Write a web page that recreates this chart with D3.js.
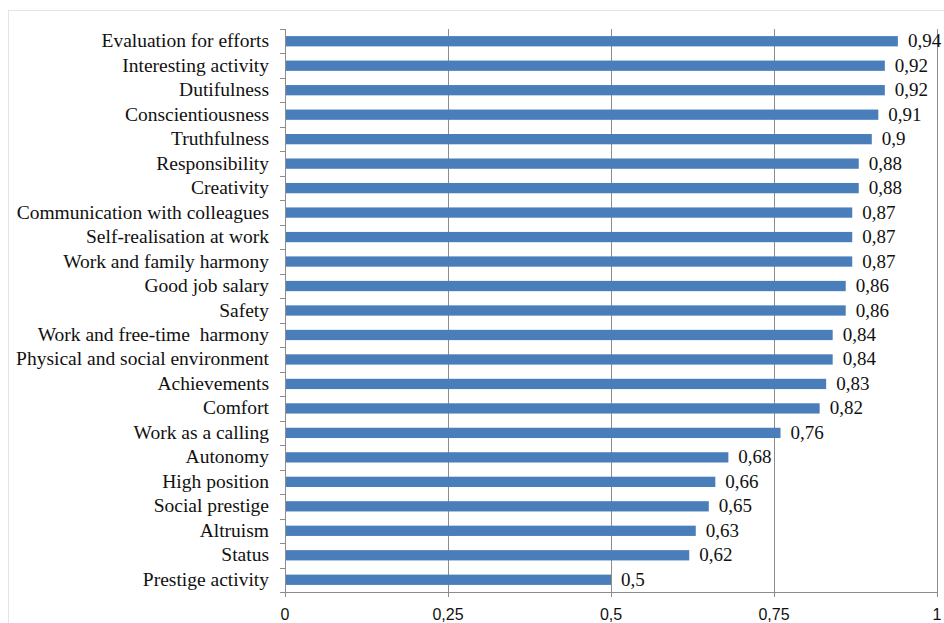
<!DOCTYPE html>
<html lang="en">
<head>
<meta charset="utf-8">
<title>Work values</title>
<script src="https://d3js.org/d3.v7.min.js"></script>
<style>
  body { margin: 0; background: #fff; }
  .cat { font-family: "Liberation Serif", "Times New Roman", serif; font-size: 19.5px; fill: #111; white-space: pre; }
  .val { font-family: "Liberation Serif", "Times New Roman", serif; font-size: 19px; fill: #111; }
  .tick-x { font-family: "Liberation Sans", Arial, sans-serif; font-size: 16px; fill: #111; }
</style>
</head>
<body>
<div id="chart"></div>
<script>
// categories top to bottom
var categories = ["Evaluation for efforts", "Interesting activity", "Dutifulness",
  "Conscientiousness", "Truthfulness", "Responsibility", "Creativity",
  "Communication with colleagues", "Self-realisation at work", "Work and family harmony",
  "Good job salary", "Safety", "Work and free-time  harmony",
  "Physical and social environment", "Achievements", "Comfort", "Work as a calling",
  "Autonomy", "High position", "Social prestige", "Altruism", "Status", "Prestige activity"];
var values = [0.94, 0.92, 0.92, 0.91, 0.9, 0.88, 0.88, 0.87, 0.87, 0.87, 0.86, 0.86,
  0.84, 0.84, 0.83, 0.82, 0.76, 0.68, 0.66, 0.65, 0.63, 0.62, 0.5];
var xTicks = [0, 0.25, 0.5, 0.75, 1];

var W = 944, H = 623;
var m = {top: 29, right: 7, bottom: 31, left: 285};

var fmt = function(v) { return String(v).replace(".", ","); };

var svg = d3.select("#chart").append("svg")
  .attr("width", W).attr("height", H);

// faint outer frame
svg.append("rect")
  .attr("x", 8.5).attr("y", 10.5)
  .attr("width", W - 8).attr("height", H)
  .style("fill", "none").style("stroke", "#e4e4e4");

var x = d3.scaleLinear().domain([0, 1]).range([m.left, W - m.right]);
var y = d3.scaleBand().domain(categories)
  .range([m.top, H - m.bottom])
  .paddingInner(0.58).paddingOuter(0.29);

var yBottom = H - m.bottom;
var step = y.step();

// grid lines
svg.append("g").selectAll("line")
  .data(xTicks.slice(1))
  .join("line")
  .attr("x1", d => Math.round(x(d)) + 0.5).attr("x2", d => Math.round(x(d)) + 0.5)
  .attr("y1", m.top).attr("y2", yBottom + 5)
  .style("stroke", "#8c8c8c").style("stroke-width", 1);

// bars
svg.append("g").selectAll("rect")
  .data(values)
  .join("rect")
  .attr("x", x(0))
  .attr("y", (d, i) => y(categories[i]))
  .attr("width", d => x(d) - x(0))
  .attr("height", y.bandwidth())
  .style("fill", "#4a7ebb");

// value labels
svg.append("g").selectAll("text")
  .data(values)
  .join("text")
  .attr("class", "val")
  .attr("x", d => x(d) + 10)
  .attr("y", (d, i) => y(categories[i]) + y.bandwidth() / 2 + 6)
  .text(d => fmt(d));

// y axis line and ticks at band boundaries
var ya = svg.append("g");
ya.append("line")
  .attr("x1", m.left + 0.5).attr("x2", m.left + 0.5)
  .attr("y1", m.top).attr("y2", yBottom)
  .style("stroke", "#8c8c8c");
ya.selectAll("line.tk")
  .data(d3.range(categories.length + 1))
  .join("line")
  .attr("class", "tk")
  .attr("x1", m.left - 5).attr("x2", m.left)
  .attr("y1", i => Math.round(m.top + i * step) + 0.5)
  .attr("y2", i => Math.round(m.top + i * step) + 0.5)
  .style("stroke", "#8c8c8c");
ya.selectAll("text")
  .data(categories)
  .join("text")
  .attr("class", "cat")
  .attr("text-anchor", "end")
  .attr("x", m.left - 16)
  .attr("y", d => y(d) + y.bandwidth() / 2 + 6)
  .text(d => d);

// x axis
var xa = svg.append("g");
xa.append("line")
  .attr("x1", m.left).attr("x2", x(1))
  .attr("y1", yBottom + 0.5).attr("y2", yBottom + 0.5)
  .style("stroke", "#8c8c8c");
xa.selectAll("line.tk")
  .data(xTicks)
  .join("line")
  .attr("class", "tk")
  .attr("x1", d => Math.round(x(d)) + 0.5).attr("x2", d => Math.round(x(d)) + 0.5)
  .attr("y1", yBottom).attr("y2", yBottom + 5)
  .style("stroke", "#8c8c8c");
xa.selectAll("text")
  .data(xTicks)
  .join("text")
  .attr("class", "tick-x")
  .attr("text-anchor", "middle")
  .attr("x", d => x(d))
  .attr("y", yBottom + 28)
  .text(d => fmt(d));
</script>
</body>
</html>
